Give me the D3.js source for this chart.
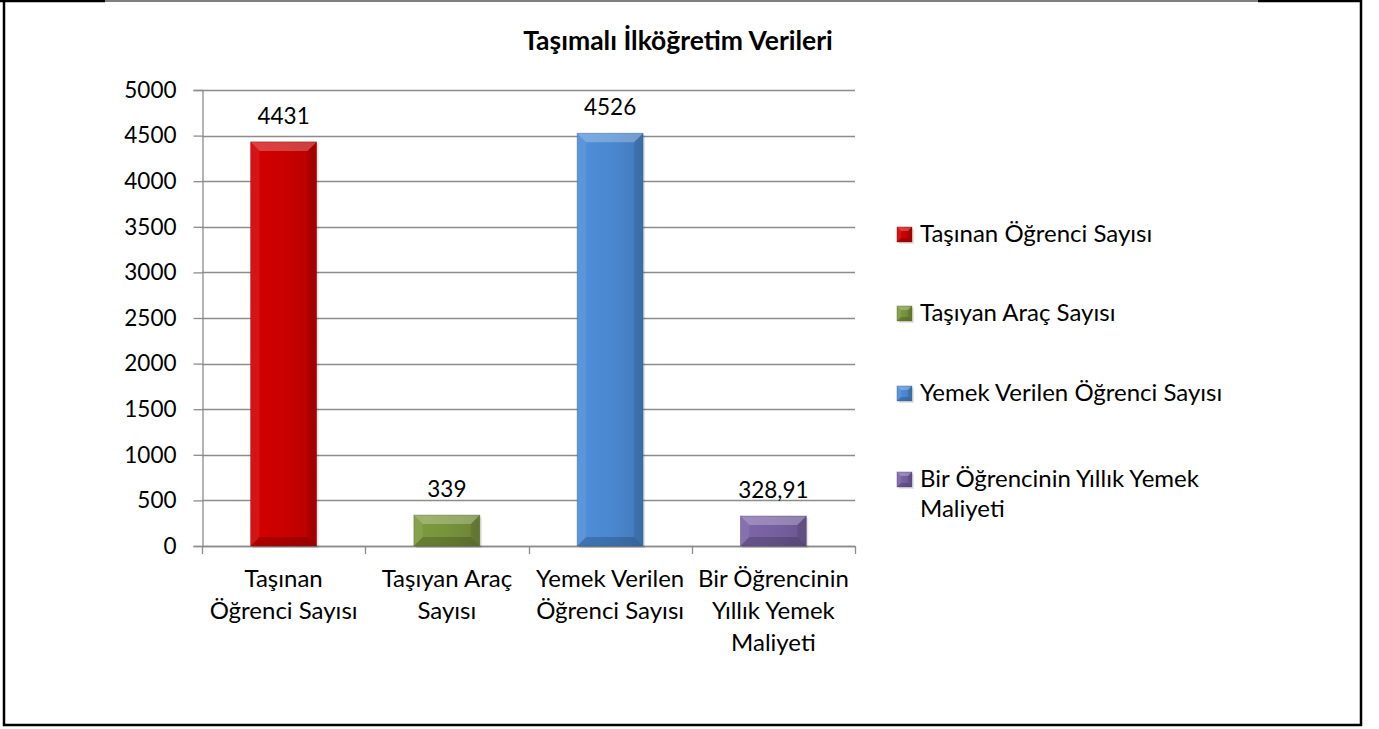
<!DOCTYPE html>
<html>
<head>
<meta charset="utf-8">
<script src="https://cdn.jsdelivr.net/npm/d3@7"></script>
<style>
  html, body { margin: 0; padding: 0; background: #fff; }
  svg { display: block; }
  text { font-family: Lato, "Liberation Sans", sans-serif; fill: #000; }
</style>
</head>
<body>
<svg id="chart" width="1379" height="729"></svg>
<script>
// ---- data ----
const title = "Taşımalı İlköğretim Verileri";
const categories = ["Taşınan Öğrenci Sayısı", "Taşıyan Araç Sayısı", "Yemek Verilen Öğrenci Sayısı", "Bir Öğrencinin Yıllık Yemek Maliyeti"];
const categoryLines = [["Taşınan", "Öğrenci Sayısı"], ["Taşıyan Araç", "Sayısı"], ["Yemek Verilen", "Öğrenci Sayısı"], ["Bir Öğrencinin", "Yıllık Yemek", "Maliyeti"]];
const values = [4431, 339, 4526, 328.91];
const valueLabels = ["4431", "339", "4526", "328,91"];
const legendLines = [["Taşınan Öğrenci Sayısı"], ["Taşıyan Araç Sayısı"], ["Yemek Verilen Öğrenci Sayısı"], ["Bir Öğrencinin Yıllık Yemek", "Maliyeti"]];
const yTicks = [0, 500, 1000, 1500, 2000, 2500, 3000, 3500, 4000, 4500, 5000];
const colors = ["#CA0000", "#77933C", "#4A88D0", "#7760A0"];

// ---- layout ----
const svg = d3.select("#chart");
const plot = { left: 202, right: 855, top: 90, bottom: 546 };
const FS = 24;      // text labels
const FSN = 22.5;   // numbers

// frame
const frame = svg.append("g");
frame.append("line").attr("x1", 0).attr("x2", 1362).attr("y1", 1).attr("y2", 1).attr("stroke", "#000").attr("stroke-width", 1.2);
frame.append("line").attr("x1", 0).attr("x2", 105).attr("y1", 1).attr("y2", 1).attr("stroke", "#000").attr("stroke-width", 2.5);
frame.append("line").attr("x1", 1258).attr("x2", 1362).attr("y1", 1).attr("y2", 1).attr("stroke", "#000").attr("stroke-width", 2.5);
frame.append("line").attr("x1", 4).attr("x2", 4).attr("y1", 0).attr("y2", 726).attr("stroke", "#000").attr("stroke-width", 2.5);
frame.append("line").attr("x1", 1361).attr("x2", 1361).attr("y1", 0).attr("y2", 726).attr("stroke", "#000").attr("stroke-width", 2.5);
frame.append("line").attr("x1", 3).attr("x2", 1362).attr("y1", 725).attr("y2", 725).attr("stroke", "#000").attr("stroke-width", 2.5);

// title
svg.append("text").attr("x", 678).attr("y", 50).attr("text-anchor", "middle")
  .attr("font-weight", "bold").attr("font-size", 26.5).text(title);

const y = d3.scaleLinear().domain([0, 5000]).range([plot.bottom, plot.top]);
const x = d3.scaleBand().domain(categories).range([plot.left, plot.right]).padding(0);
const barFrac = 0.404;
const bw = x.bandwidth() * barFrac;

// gridlines
svg.append("g").selectAll("line").data(yTicks).join("line")
  .attr("x1", plot.left).attr("x2", plot.right)
  .attr("y1", d => Math.round(y(d)) + 0.5).attr("y2", d => Math.round(y(d)) + 0.5)
  .attr("stroke", "#8c8c8c").attr("stroke-width", 1.3);

// y axis
const yAxis = svg.append("g").attr("transform", `translate(${plot.left + 0.5},0)`)
  .call(d3.axisLeft(y).tickValues(yTicks).tickSize(9).tickPadding(17).tickFormat(d3.format("d")));
yAxis.select(".domain").attr("stroke", "#8c8c8c").attr("stroke-width", 1.3);
yAxis.selectAll(".tick line").attr("stroke", "#8c8c8c").attr("stroke-width", 1.3);
yAxis.selectAll(".tick text").attr("font-size", FSN).attr("font-family", "Lato, sans-serif").attr("fill", "#000");

// x axis
const xAxisG = svg.append("g");
xAxisG.append("line").attr("x1", plot.left).attr("x2", plot.right)
  .attr("y1", plot.bottom + 0.5).attr("y2", plot.bottom + 0.5).attr("stroke", "#8c8c8c").attr("stroke-width", 1.3);
const boundaries = categories.map(c => x(c)).concat([x(categories[categories.length - 1]) + x.bandwidth()]);
xAxisG.selectAll("line.tk").data(boundaries).join("line").attr("class", "tk")
  .attr("x1", d => Math.round(d) + 0.5).attr("x2", d => Math.round(d) + 0.5)
  .attr("y1", plot.bottom).attr("y2", plot.bottom + 8).attr("stroke", "#8c8c8c").attr("stroke-width", 1.3);

// category labels
categories.forEach((c, i) => {
  const t = xAxisG.append("text").attr("text-anchor", "middle").attr("font-size", FS);
  categoryLines[i].forEach((ln, j) => {
    t.append("tspan").attr("x", x(c) + x.bandwidth() / 2).attr("y", 587 + j * 32).text(ln);
  });
});

// defs for gradients
const defs = svg.append("defs");
colors.forEach((col, i) => {
  const g = defs.append("linearGradient").attr("id", "g" + i).attr("x1", 0).attr("x2", 1).attr("y1", 0).attr("y2", 0);
  g.append("stop").attr("offset", "0%").attr("stop-color", d3.color(col).brighter(0.15));
  g.append("stop").attr("offset", "50%").attr("stop-color", col);
  g.append("stop").attr("offset", "100%").attr("stop-color", d3.color(col).darker(0.3));
});

function bevelBar(g, x0, y0, w, h, i, b) {
  b = Math.min(b, h / 2, w / 2);
  g.append("rect").attr("x", x0 + 2).attr("y", y0 + 2).attr("width", w).attr("height", h)
    .attr("fill", "#000").attr("opacity", 0.1);
  g.append("rect").attr("x", x0).attr("y", y0).attr("width", w).attr("height", h).attr("fill", `url(#g${i})`);
  const x1 = x0 + w, y1 = y0 + h;
  // top bevel
  g.append("polygon").attr("points", [[x0, y0], [x1, y0], [x1 - b, y0 + b], [x0 + b, y0 + b]].join(" "))
    .attr("fill", "#fff").attr("opacity", 0.25);
  // left bevel
  g.append("polygon").attr("points", [[x0, y0], [x0 + b, y0 + b], [x0 + b, y1 - b], [x0, y1]].join(" "))
    .attr("fill", "#fff").attr("opacity", 0.08);
  // right bevel
  g.append("polygon").attr("points", [[x1, y0], [x1 - b, y0 + b], [x1 - b, y1 - b], [x1, y1]].join(" "))
    .attr("fill", "#000").attr("opacity", 0.1);
  // bottom bevel
  g.append("polygon").attr("points", [[x0, y1], [x0 + b, y1 - b], [x1 - b, y1 - b], [x1, y1]].join(" "))
    .attr("fill", "#000").attr("opacity", 0.18);
  g.append("rect").attr("x", x0).attr("y", y0).attr("width", w).attr("height", h)
    .attr("fill", "none").attr("stroke", d3.color(colors[i]).darker(1)).attr("stroke-width", 0.8).attr("opacity", 0.5);
}

// bars
const barsG = svg.append("g");
categories.forEach((c, i) => {
  const x0 = x(c) + (x.bandwidth() - bw) / 2;
  const y0 = y(values[i]);
  bevelBar(barsG, x0, y0, bw, plot.bottom - y0, i, 9);
  svg.append("text").attr("x", x(c) + x.bandwidth() / 2).attr("y", y0 - 18)
    .attr("text-anchor", "middle").attr("font-size", FSN).text(valueLabels[i]);
});

// legend
const legendY = [234, 313, 393, 479];
const legG = svg.append("g");
legendLines.forEach((lines, i) => {
  bevelBar(legG, 897, legendY[i] - 7, 15, 15, i, 4);
  const t = legG.append("text").attr("font-size", FS);
  lines.forEach((ln, j) => {
    t.append("tspan").attr("x", 920).attr("y", legendY[i] + 8 + j * 30).text(ln);
  });
});
</script>
</body>
</html>
